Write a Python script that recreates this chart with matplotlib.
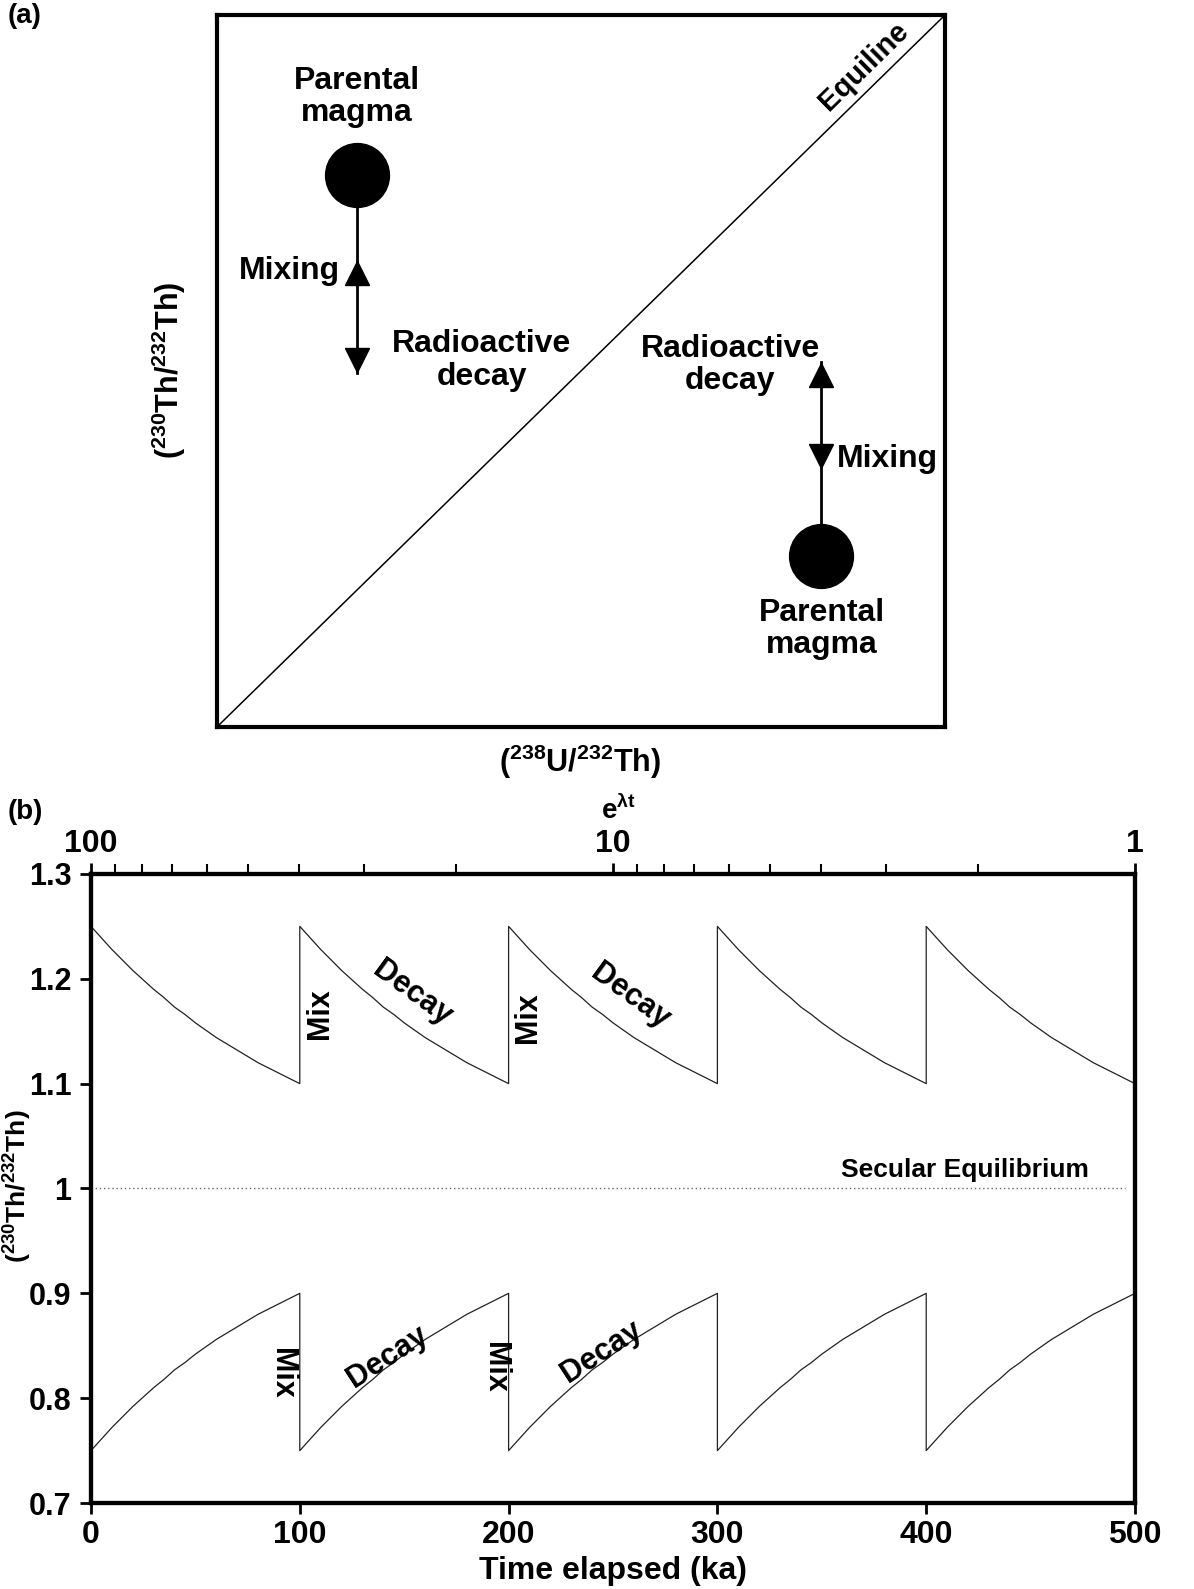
import matplotlib
matplotlib.use("Agg")
from matplotlib import pyplot as plt
from matplotlib import font_manager

# ---- panel (b) data ----
cycle_starts = [0, 100, 200, 300, 400]
decay_offsets = [0, 5, 10, 15, 20, 25, 30, 35, 40, 45, 50,
                 55, 60, 65, 70, 75, 80, 85, 90, 95, 100]
upper_profile = [1.250, 1.239, 1.228, 1.218, 1.208, 1.199, 1.190, 1.182, 1.173, 1.166, 1.158,
                 1.151, 1.144, 1.138, 1.132, 1.126, 1.120, 1.115, 1.110, 1.105, 1.100]
lower_profile = [0.750, 0.761, 0.772, 0.782, 0.792, 0.801, 0.810, 0.818, 0.827, 0.834, 0.842,
                 0.849, 0.856, 0.862, 0.868, 0.874, 0.880, 0.885, 0.890, 0.895, 0.900]
secular_eq = 1.0
time_ticks = [0, 100, 200, 300, 400, 500]
ratio_ticks = [0.7, 0.8, 0.9, 1.0, 1.1, 1.2, 1.3]
ratio_labels = ["0.7", "0.8", "0.9", "1", "1.1", "1.2", "1.3"]
elt_ticks = [100, 10, 1]
elt_labels = ["100", "10", "1"]

# ---- panel (a) schematic, axes fraction ----
parent_x = [0.192, 0.830]
parent_y = [0.775, 0.240]
arrow_end_y = [0.497, 0.513]
up_tri_y = [0.638, 0.494]
down_tri_y = [0.515, 0.381]

names = {f.name for f in font_manager.fontManager.ttflist}
NARROW = "Liberation Sans Narrow" if "Liberation Sans Narrow" in names else "Liberation Sans"

plt.rcParams["font.family"] = ["Liberation Sans", "DejaVu Sans"]
plt.rcParams["font.weight"] = "bold"
plt.rcParams["axes.labelweight"] = "bold"
plt.rcParams["mathtext.fontset"] = "custom"
plt.rcParams["mathtext.rm"] = "Liberation Sans:bold"
plt.rcParams["mathtext.it"] = "Liberation Sans:bold"
plt.rcParams["mathtext.bf"] = "Liberation Sans:bold"

SPINE_W = 3.0
TXT = 23
BTXT = 22


def panel_a(fig):
    ax = fig.add_axes([0.1817, 0.5425, 0.6097, 0.448])
    ax.set_xlim(0, 1)
    ax.set_ylim(0, 1)
    ax.set_xticks([])
    ax.set_yticks([])
    for s in ax.spines.values():
        s.set_linewidth(SPINE_W)

    ax.plot([0, 1], [0, 1], color="black", lw=1.1)
    ax.text(0.889, 0.928, "Equiline", rotation=44.4, ha="center", va="center",
            fontsize=21)

    for i in range(2):
        x = parent_x[i]
        ax.plot([x, x], [parent_y[i], arrow_end_y[i]], color="black", lw=2)
        ax.plot(x, parent_y[i], "o", color="black", ms=46)
        ax.plot(x, up_tri_y[i], "^", color="black", ms=17)
        ax.plot(x, down_tri_y[i], "v", color="black", ms=17)

    ax.text(0.192, 0.885, "Parental\nmagma", ha="center", va="center", fontsize=TXT,
            linespacing=1.1)
    ax.text(0.169, 0.640, "Mixing", ha="right", va="center", fontsize=TXT)
    ax.text(0.364, 0.515, "Radioactive\ndecay", ha="center", va="center", fontsize=TXT,
            linespacing=1.1)
    ax.text(0.705, 0.508, "Radioactive\ndecay", ha="center", va="center", fontsize=TXT,
            linespacing=1.1)
    ax.text(0.852, 0.376, "Mixing", ha="left", va="center", fontsize=TXT)
    ax.text(0.831, 0.138, "Parental\nmagma", ha="center", va="center", fontsize=TXT,
            linespacing=1.1)

    ax.set_ylabel(r"($^{230}$Th/$^{232}$Th)", fontsize=22)
    ax.yaxis.set_label_coords(-0.040, 0.501)
    ax.set_xlabel(r"($^{238}$U/$^{232}$Th)", fontsize=22)
    ax.xaxis.set_label_coords(0.499, -0.022)
    fig.text(0.006, 0.998, "(a)", fontsize=20, ha="left", va="top")


def panel_b(fig):
    ax = fig.add_axes([0.0762, 0.0541, 0.8744, 0.3959])
    t_all, v_up, v_low = [], [], []
    for start in cycle_starts:
        for off, u, l in zip(decay_offsets, upper_profile, lower_profile):
            t_all.append(start + off)
            v_up.append(u)
            v_low.append(l)
    ax.plot(t_all, v_up, color="#222222", lw=0.9)
    ax.plot(t_all, v_low, color="#222222", lw=0.9)
    ax.axhline(secular_eq, xmax=0.99, color="#666666", lw=1.0, ls=(0, (1, 2)))

    ax.set_xlim(0, 500)
    ax.set_ylim(0.7, 1.3)
    ax.set_xticks(time_ticks)
    ax.set_yticks(ratio_ticks)
    ax.set_yticklabels(ratio_labels)
    ax.tick_params(axis="x", direction="out", length=8, width=2, labelsize=23, pad=4)
    ax.tick_params(axis="y", direction="out", length=8, width=2, labelsize=22, pad=6)
    for lab in ax.get_xticklabels() + ax.get_yticklabels():
        lab.set_fontfamily(NARROW)
        lab.set_fontweight("bold")
    for s in ax.spines.values():
        s.set_linewidth(SPINE_W)

    ax.set_xlabel("Time elapsed (ka)", fontsize=23, fontfamily=NARROW)
    ax.xaxis.set_label_coords(0.50, -0.084)
    ax.set_ylabel(r"($^{230}$Th/$^{232}$Th)", fontsize=19)
    ax.yaxis.set_label_coords(-0.0545, 0.504)

    # labels on the saw-tooth curves
    ax.text(109.7, 1.167, "Mix", rotation=90, ha="center", va="center", fontsize=BTXT)
    ax.text(209.3, 1.163, "Mix", rotation=90, ha="center", va="center", fontsize=BTXT)
    ax.text(153.7, 1.186, "Decay", rotation=-36, ha="center", va="center", fontsize=BTXT)
    ax.text(258.0, 1.183, "Decay", rotation=-36, ha="center", va="center", fontsize=BTXT)
    ax.text(91.5, 0.824, "Mix", rotation=270, ha="center", va="center", fontsize=BTXT)
    ax.text(193.5, 0.829, "Mix", rotation=270, ha="center", va="center", fontsize=BTXT)
    ax.text(141.8, 0.839, "Decay", rotation=33, ha="center", va="center", fontsize=BTXT)
    ax.text(244.7, 0.844, "Decay", rotation=33, ha="center", va="center", fontsize=BTXT)
    ax.text(418.6, 1.018, "Secular Equilibrium", ha="center", va="center", fontsize=19)

    top = ax.twiny()
    top.set_xscale("log")
    top.set_xlim(100, 1)
    top.set_xticks(elt_ticks)
    top.set_xticklabels(elt_labels)
    top.tick_params(which="major", direction="out", length=8, width=2, labelsize=23, pad=3)
    top.tick_params(which="minor", direction="out", length=7, width=1.5)
    for lab in top.get_xticklabels():
        lab.set_fontfamily(NARROW)
        lab.set_fontweight("bold")
    for s in top.spines.values():
        s.set_linewidth(SPINE_W)
    top.set_xlabel(r"e$^{\lambda t}$", fontsize=20)
    top.xaxis.set_label_coords(0.505, 1.088)
    fig.text(0.006, 0.497, "(b)", fontsize=20, ha="left", va="top")


def main():
    fig = plt.figure(figsize=(11.94, 15.89), dpi=100)
    panel_a(fig)
    panel_b(fig)
    fig.savefig("out.png", dpi=100, facecolor="white")


if __name__ == '__main__':
    main()
